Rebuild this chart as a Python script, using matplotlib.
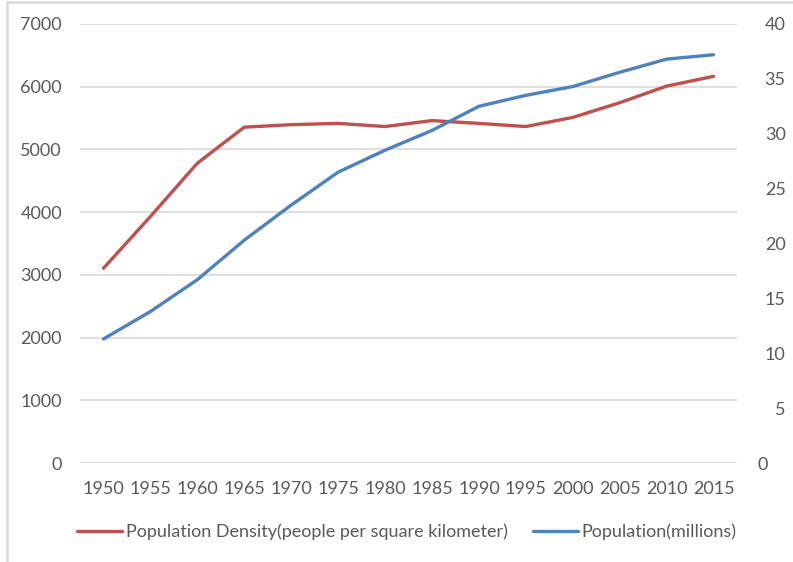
import matplotlib
matplotlib.use('Agg')
import matplotlib.pyplot as plt
from matplotlib.patches import Rectangle

years = ['1950', '1955', '1960', '1965', '1970', '1975', '1980',
         '1985', '1990', '1995', '2000', '2005', '2010', '2015']
density = [3105, 3930, 4780, 5355, 5395, 5415, 5365,
           5460, 5415, 5365, 5510, 5745, 6010, 6165]
population = [11.3, 13.8, 16.7, 20.3, 23.5, 26.5, 28.5,
              30.3, 32.5, 33.5, 34.3, 35.6, 36.8, 37.2]

red = '#C0504D'
blue = '#4F81BD'
grey_txt = '#595959'
plt.rcParams['font.family'] = ['Lato', 'DejaVu Sans']
plt.rcParams['font.size'] = 13

fig = plt.figure(figsize=(7.93, 5.62), dpi=100)
ax = fig.add_axes([80/793, 1-463/562, (737-80)/793, (463-24)/562])
ax2 = ax.twinx()

x = list(range(len(years)))
l1, = ax.plot(x, density, color=red, linewidth=2.4, solid_capstyle='round',
              label='Population Density(people per square kilometer)')
l2, = ax2.plot(x, population, color=blue, linewidth=2.4, solid_capstyle='round',
               label='Population(millions)')

ax.set_xlim(-0.5, len(years) - 0.5)
ax.set_ylim(0, 7000)
ax2.set_ylim(0, 40)
ax.set_yticks(range(0, 7001, 1000))
ax2.set_yticks(range(0, 41, 5))
ax.set_xticks(x)
ax.set_xticklabels(years)
ax.grid(axis='y', color='#D9D9D9', linewidth=1.2)
ax.set_axisbelow(True)

for a in (ax, ax2):
    for s in a.spines.values():
        s.set_visible(False)
ax.tick_params(axis='y', length=0, pad=13, labelcolor=grey_txt)
ax.tick_params(axis='x', length=0, pad=13, labelcolor=grey_txt)
ax2.tick_params(axis='y', length=0, pad=35, labelcolor=grey_txt)
for lbl in ax2.get_yticklabels():
    lbl.set_horizontalalignment('right')
ax2.yaxis.get_major_ticks()[0].set_pad(22)

leg = fig.legend(handles=[l1, l2], loc='center', ncol=2,
                 bbox_to_anchor=(407/793, 1-532/562), frameon=False,
                 handlelength=2.5, handletextpad=0.2, columnspacing=1.4,
                 labelcolor=grey_txt)

fig.patches.append(Rectangle((7/793, -0.1), 1.2, 1 - 1.5/562 + 0.1,
                             transform=fig.transFigure, fill=False,
                             edgecolor='#D9D9D9', linewidth=1.8))

fig.savefig('out.png', dpi=100)
